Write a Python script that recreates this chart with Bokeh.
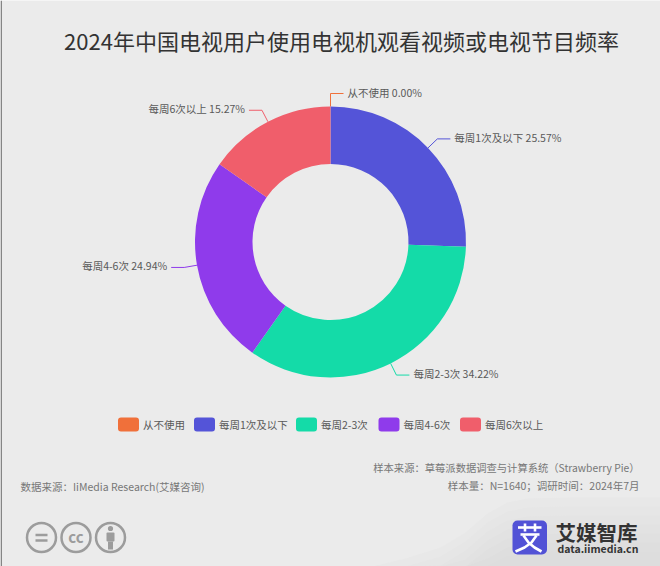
import math
from bokeh.plotting import figure
from bokeh.core.properties import value
from bokeh.embed import file_html
from bokeh.resources import INLINE

title = "2024年中国电视用户使用电视机观看视频或电视节目频率"
categories = ["从不使用", "每周1次及以下", "每周2-3次", "每周4-6次", "每周6次以上"]
values = [0.00, 25.57, 34.22, 24.94, 15.27]
colors = ["#F0703A", "#5454D8", "#14DBA8", "#8F3BEB", "#F05E6B"]
source_left = "数据来源：IiMedia Research(艾媒咨询)"
source_right = ["样本来源：草莓派数据调查与计算系统（Strawberry Pie）", "样本量：N=1640；调研时间：2024年7月"]
logo_name = "艾媒智库"
logo_url = "data.iimedia.cn"

FONT = value("Noto Sans CJK SC")
BG = "#EBEBEB"
W, H = 660, 566
CX, CY, R0, R1 = 330, 241.5, 78, 135.5
Y = lambda py: H - py

p = figure(width=W, height=H, x_range=(0, W), y_range=(0, H),
           output_backend="svg", toolbar_location=None, min_border=0,
           background_fill_color=BG, border_fill_color=BG, outline_line_color=None)
p.axis.visible = False
p.grid.visible = False


def label(x, py, s, size="10.5px", color="#595959", align="left", weight="normal"):
    p.text([x], [Y(py)], text=[s], text_font=FONT, text_font_size=size, text_color=color,
           text_align=align, text_baseline="middle", text_font_style=weight)


# left page edge
p.line([0.7, 0.7], [0, H], line_color="#808080", line_width=1.5)

# swoosh in the lower right corner, stepped from light at the top to darker at the bottom
sw_x_pts = [372, 405, 440, 465, 487, 507, 527, 570, 660, 660]
sw_y_pts = [566, 558, 547, 532, 513, 502, 498, 497, 497, 566]
for k, shade in enumerate(["#E8E8E8", "#E6E6E6", "#E4E4E4", "#E2E2E2", "#E0E0E0", "#DEDEDE", "#DDDDDD"]):
    dy = k * 9
    p.patch(sw_x_pts, [Y(min(566, v + dy)) for v in sw_y_pts], fill_color=shade, line_color=None)

label(341, 39, title, size="22px", color="#333333", align="center")

# donut, leaders and labels
total = sum(values)
cum = 0.0
for name, val, col in zip(categories, values, colors):
    a0, a1 = cum / total * 2 * math.pi, (cum + val) / total * 2 * math.pi
    mid = (a0 + a1) / 2
    if val > 0:
        p.annular_wedge([CX], [Y(CY)], R0, R1, [math.pi / 2 - a0], [math.pi / 2 - a1],
                        direction="clock", fill_color=col, line_color=None)
    cum += val
    sx, cx = math.sin(mid), math.cos(mid)
    x1, y1 = CX + R1 * sx, CY - R1 * cx
    x2, y2 = CX + (R1 + 13) * sx, CY - (R1 + 13) * cx
    right = sx >= -1e-9
    x3 = x2 + (13 if right else -13)
    p.line([x1, x2, x3], [Y(y1), Y(y2), Y(y2)], line_color=col, line_width=1)
    label(x3 + (4 if right else -4), y2 - 1.5, f"{name} {val:.2f}%", align="left" if right else "right")

# legend
sw_x = [117.5, 193.5, 295.5, 378, 459.5]
for x, name, col in zip(sw_x, categories, colors):
    p.quad(left=[x], right=[x + 21], top=[Y(417)], bottom=[Y(431)], fill_color=col,
           line_color=None, border_radius=3)
    label(x + 25, 423.5, name)

# source notes
label(20, 486, source_left, color="#777777")
label(639, 467, source_right[0], size="10.3px", color="#777777", align="right")
label(639, 485, source_right[1], color="#777777", align="right")

# licence badges
for x in (41, 75.5, 110):
    p.circle([x], [Y(537)], radius=14.5, fill_color=None, line_color="#9C9C9C", line_width=2.5)
p.line([35, 47], [Y(534.5)] * 2, line_color="#9C9C9C", line_width=2.5)
p.line([35, 47], [Y(540)] * 2, line_color="#9C9C9C", line_width=2.5)
label(75.5, 536, "cc", size="15px", color="#9C9C9C", align="center", weight="bold")
p.circle([110], [Y(528)], radius=2.6, fill_color="#9C9C9C", line_color=None)
p.quad(left=[106], right=[114], top=[Y(532)], bottom=[Y(541)], fill_color="#9C9C9C", line_color=None, border_radius=1)
p.quad(left=[107.5], right=[112.5], top=[Y(541)], bottom=[Y(549)], fill_color="#9C9C9C", line_color=None)

# logo
p.quad(left=[512], right=[546.5], top=[Y(520)], bottom=[Y(554)], fill_color="#5252D6", line_color=None, border_radius=5)
for xs, ys in [([517.5, 541], [527, 527]), ([524.5, 524.5], [523, 531]), ([534.5, 534.5], [523, 531]),
               ([520, 539], [534, 534]), ([523, 528, 534, 541], [535, 542, 547, 551]),
               ([536, 531, 524, 515], [535, 542, 547, 551])]:
    p.line(xs, [Y(v) for v in ys], line_color="#FFFFFF", line_width=2.6)
label(555, 531, logo_name, size="20.5px", color="#333333", weight="bold")
label(557, 547.5, logo_url, size="10.5px", color="#333333", weight="bold")

open("out.html", "w").write(file_html(p, INLINE))
